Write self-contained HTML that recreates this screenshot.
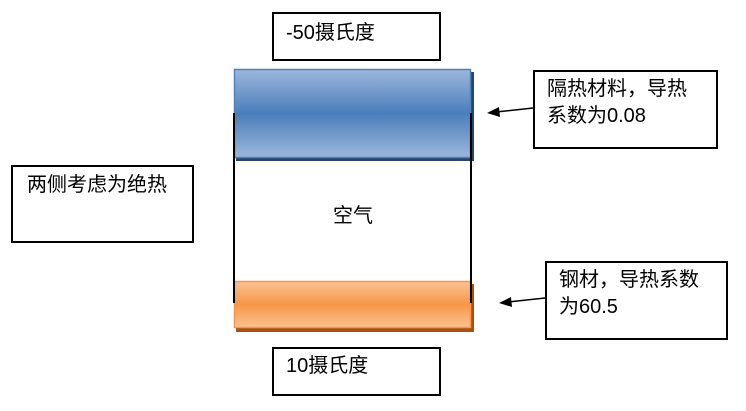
<!DOCTYPE html>
<html><head><meta charset="utf-8"><style>
body{margin:0;width:746px;height:411px;background:#fff;position:relative;overflow:hidden;font-family:"Liberation Sans","Noto Sans CJK SC",sans-serif;font-size:20px;color:#000}
.b{position:absolute;border:2px solid #000;box-sizing:border-box;background:#fff;padding:4px 12px;line-height:27px;white-space:nowrap}
</style></head><body>
<div class="b" style="left:272px;top:12px;width:169px;height:49px;padding-top:6px">-50摄氏度</div>
<div class="b" style="left:533px;top:70px;width:185px;height:79px;padding-top:4px">隔热材料，导热<br>系数为0.08</div>
<div class="b" style="left:11px;top:165px;width:183px;height:78px;padding-top:5px;padding-left:14px">两侧考虑为绝热</div>
<div class="b" style="left:545px;top:261px;width:183px;height:79px;padding-top:4px">钢材，导热系数<br>为60.5</div>
<div class="b" style="left:272px;top:347px;width:169px;height:49px;padding-top:4px">10摄氏度</div>
<svg width="746" height="411" style="position:absolute;left:0;top:0">
<defs>
<linearGradient id="g1" x1="0" y1="0" x2="0" y2="1"><stop offset="0" stop-color="#9db7dc"/><stop offset=".5" stop-color="#4a7ebb"/><stop offset="1" stop-color="#9db7dc"/></linearGradient>
<linearGradient id="g2" x1="0" y1="0" x2="0" y2="1"><stop offset="0" stop-color="#fbc394"/><stop offset=".5" stop-color="#f79646"/><stop offset="1" stop-color="#fbc394"/></linearGradient>
</defs>
<rect x="236" y="72" width="238" height="89" fill="#2a4466"/>
<rect x="234.5" y="69.5" width="236" height="88" fill="url(#g1)" stroke="#4f81bd" stroke-width="1.5"/>
<rect x="236" y="284" width="238" height="48" fill="#a65216"/>
<rect x="234.5" y="281.5" width="236" height="46" fill="url(#g2)" stroke="#f79646" stroke-width="1.5"/>
<rect x="236" y="161" width="234" height="119" fill="#fff"/>
<line x1="234" y1="113" x2="234" y2="303" stroke="#000" stroke-width="2"/>
<line x1="471" y1="113" x2="471" y2="303" stroke="#000" stroke-width="2"/>
<text x="333" y="222" font-size="20" font-family="Liberation Sans,Noto Sans CJK SC,sans-serif">空气</text>
<line x1="533" y1="108" x2="496" y2="112" stroke="#000" stroke-width="1.5"/>
<polygon points="487,113 499,107 500,117" fill="#000"/>
<line x1="545" y1="298" x2="508" y2="302" stroke="#000" stroke-width="1.5"/>
<polygon points="499,303 511,297 512,307" fill="#000"/>
</svg>
</body></html>
